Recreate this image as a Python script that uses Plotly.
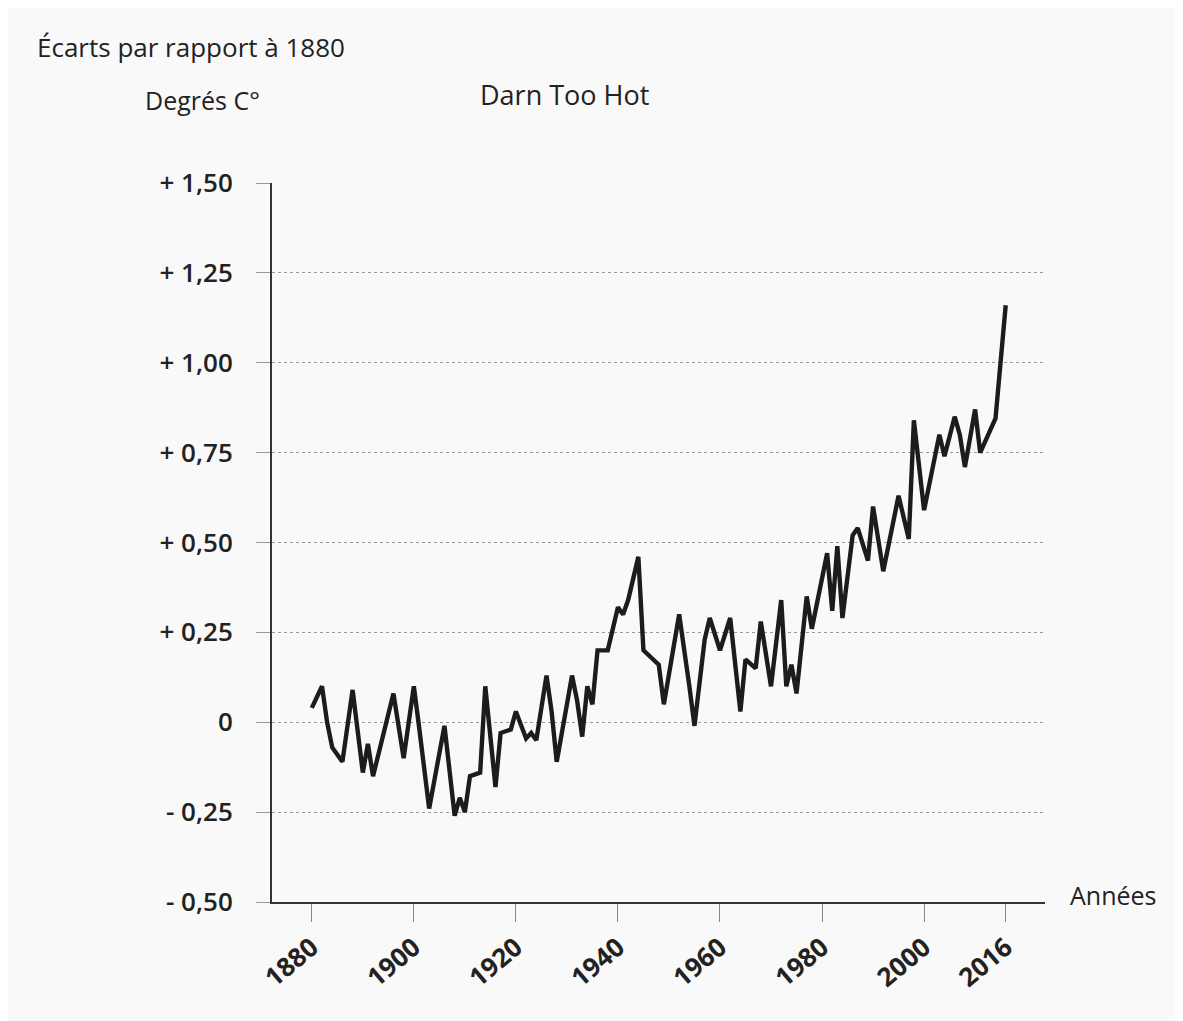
import plotly.graph_objects as go

# Traced data (years, deviation in °C relative to 1880)
years = [1880, 1882, 1883, 1884, 1886, 1888, 1890, 1891, 1892, 1896, 1898, 1900,
         1901, 1903, 1906, 1908, 1909, 1910, 1911, 1913, 1914, 1916, 1917, 1919,
         1920, 1922, 1923, 1924, 1926, 1927, 1928, 1931, 1932, 1933, 1934, 1935,
         1936, 1938, 1940, 1941, 1942, 1944, 1945, 1948, 1949, 1952, 1954, 1955,
         1957, 1958, 1960, 1962, 1964, 1965, 1967, 1968, 1970, 1972, 1973, 1974,
         1975, 1977, 1978, 1981, 1982, 1983, 1984, 1986, 1987, 1989, 1990, 1992,
         1995, 1997, 1998, 2000, 2003, 2004, 2006, 2007, 2008, 2010, 2011, 2014,
         2016]
anomaly = [0.04, 0.10, 0.00, -0.07, -0.11, 0.09, -0.14, -0.06, -0.15, 0.08, -0.10, 0.10,
           -0.01, -0.24, -0.01, -0.26, -0.21, -0.25, -0.15, -0.14, 0.10, -0.18, -0.03, -0.02,
           0.03, -0.045, -0.03, -0.05, 0.13, 0.03, -0.11, 0.13, 0.06, -0.04, 0.10, 0.05,
           0.20, 0.20, 0.32, 0.30, 0.34, 0.46, 0.20, 0.16, 0.05, 0.30, 0.10, -0.01,
           0.23, 0.29, 0.20, 0.29, 0.03, 0.175, 0.15, 0.28, 0.10, 0.34, 0.10, 0.16,
           0.08, 0.35, 0.26, 0.47, 0.31, 0.49, 0.29, 0.52, 0.54, 0.45, 0.60, 0.42,
           0.63, 0.51, 0.84, 0.59, 0.80, 0.74, 0.85, 0.80, 0.71, 0.87, 0.75, 0.845,
           1.16]

x_tickvals = [1880, 1900, 1920, 1940, 1960, 1980, 2000, 2016]
x_ticktext = ["1880", "1900", "1920", "1940", "1960", "1980", "2000", "2016"]
y_tickvals = [1.5, 1.25, 1.0, 0.75, 0.5, 0.25, 0, -0.25, -0.5]
y_ticktext = ["+ 1,50", "+ 1,25", "+ 1,00", "+ 0,75", "+ 0,50", "+ 0,25", "0", "- 0,25", "- 0,50"]

FONT = "Open Sans"
INK = "#222222"
W, H = 1183, 1021
L, R, T, B = 264, 146, 175, 127
OFF = 8  # page offset of the figure

fig = go.Figure()
fig.add_trace(go.Scatter(
    x=years, y=anomaly, mode="lines",
    line=dict(color="#1c1c1c", width=4.4),
    showlegend=False, hoverinfo="skip",
))

fig.update_layout(
    width=W, height=H,
    margin=dict(l=L, r=R, t=T, b=B),
    paper_bgcolor="#f9f9f9", plot_bgcolor="#f9f9f9",
    font=dict(family=FONT, color=INK),
    showlegend=False,
)

fig.update_xaxes(
    range=[1872.2, 2023.7],
    tickvals=x_tickvals, ticktext=x_ticktext,
    tickangle=-40,
    tickfont=dict(family=FONT, size=26, color=INK, weight=700),
    ticks="outside", ticklen=18, tickcolor="#888888", tickwidth=1,
    showgrid=False, zeroline=False,
    showline=True, linecolor="#333333", linewidth=2,
)
fig.update_yaxes(
    range=[-0.5, 1.5],
    tickvals=y_tickvals, ticktext=y_ticktext,
    tickfont=dict(family=FONT, size=26, color=INK, weight=600),
    ticks="outside", ticklen=14, tickcolor="#999999", tickwidth=1,
    ticklabelstandoff=18,
    showgrid=True, gridcolor="#9a9a9a", gridwidth=1, griddash="dot",
    zeroline=False,
    showline=True, linecolor="#333333", linewidth=2,
)

annots = [
    dict(text="Écarts par rapport à 1880", x=35, y=47, size=26),
    dict(text="Degrés C°", x=143, y=100, size=25),
    dict(text="Darn Too Hot", x=478, y=95, size=27),
    dict(text="Années", x=1068, y=895, size=25),
]
pw = W - L - R
ph = H - T - B
for a in annots:
    fig.add_annotation(
        text=a["text"], xref="paper", yref="paper",
        x=(a["x"] - OFF - L) / pw,
        y=(H - B - (a["y"] - OFF)) / ph,
        xanchor="left", yanchor="middle", showarrow=False,
        font=dict(family=FONT, size=a["size"], color=INK),
    )

fig.write_html("out.html")
